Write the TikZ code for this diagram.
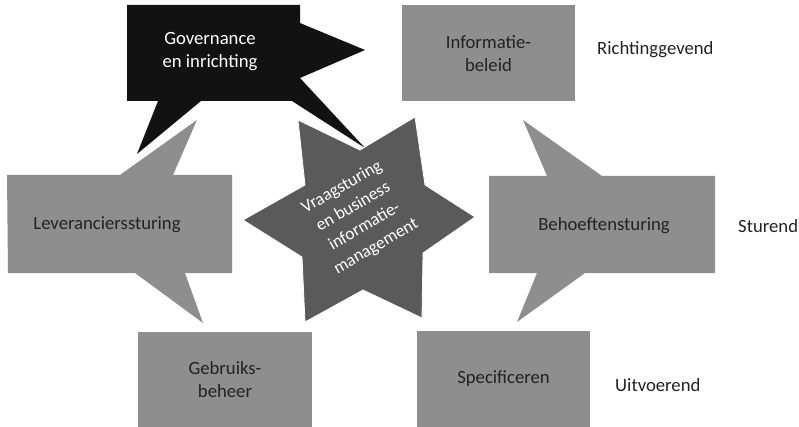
\documentclass[tikz,border=0pt]{standalone}
\usepackage{fontspec}
\setmainfont{Carlito}
\begin{document}
\begin{tikzpicture}[x=1pt,y=-1pt,
  greyfill/.style={fill=boxgrey},
  boxtext/.style={text=txtdark,font=\fontsize{18.7}{23}\selectfont,align=center,inner sep=0pt},
  box/.style={fill=boxgrey,draw=none,minimum width=#1,minimum height=96pt,text=txtdark,font=\fontsize{18.7}{23}\selectfont,align=center,inner sep=0pt},
  whitetext/.style={text=white,font=\fontsize{18.7}{23}\selectfont,align=center,inner sep=0pt},
  levellabel/.style={text=txtdark,font=\fontsize{18.7}{23}\selectfont,anchor=west,inner sep=0pt}]
\definecolor{boxgrey}{HTML}{8E8E8E}
\definecolor{stargrey}{HTML}{5A5A5A}
\definecolor{blackbox}{HTML}{121212}
\definecolor{txtdark}{HTML}{222222}
\useasboundingbox (0,0) rectangle (799,427);

% Governance callout (black)
\fill[blackbox] (127,5) -- (300,5) -- (300,23) -- (365,50) -- (300,78) -- (365,148)
  -- (292,101) -- (201,101) -- (137,154) -- (158,101) -- (127,101) -- cycle;
\node[whitetext] (gov) at (210,52) {Governance\\en inrichting};

% Leverancierssturing callout
\fill[greyfill] (7,175) -- (120,175) -- (197,120) -- (173,175) -- (232,175) -- (232,273)
  -- (185,273) -- (203,323) -- (135,273) -- (8,273) -- cycle;
\node[boxtext] (lev) at (107,225) {Leverancierssturing};

% Behoeftensturing callout
\fill[greyfill] (489,176) -- (547,176) -- (523,120) -- (602,176) -- (715,176) -- (715,273)
  -- (585,273) -- (517,322) -- (537,273) -- (489,273) -- cycle;
\node[boxtext] (beh) at (604,226) {Behoeftensturing};

% Star
\filldraw[fill=stargrey,draw=white,line width=0.8pt,line join=miter]
  (298,120) -- (360,150) -- (415,117) -- (425,185) -- (475,217) -- (423,253)
  -- (422,318) -- (363,290) -- (305,322) -- (302,257) -- (243,220) -- (305,185) -- cycle;
\node[text=white,font=\fontsize{17.5}{22.8}\selectfont,align=center,inner sep=0pt,rotate=30]
  (star) at (359,217) {Vraagsturing\\en business\\informatie-\\management};

% Boxes
\node[box=173pt] (info) at (488.5,53.5) {Informatie-\\beleid};
\node[box=174pt,minimum height=95pt] (gebr) at (225,379.5) {Gebruiks-\\beheer};
\node[box=173pt,minimum height=96pt] (spec) at (503.5,379) {Specificeren};

% Level labels
\node[levellabel] (richt) at (597,50) {Richtinggevend};
\node[levellabel] (stur) at (738,226) {Sturend};
\node[levellabel] (uitv) at (615,385) {Uitvoerend};
\end{tikzpicture}
\end{document}
